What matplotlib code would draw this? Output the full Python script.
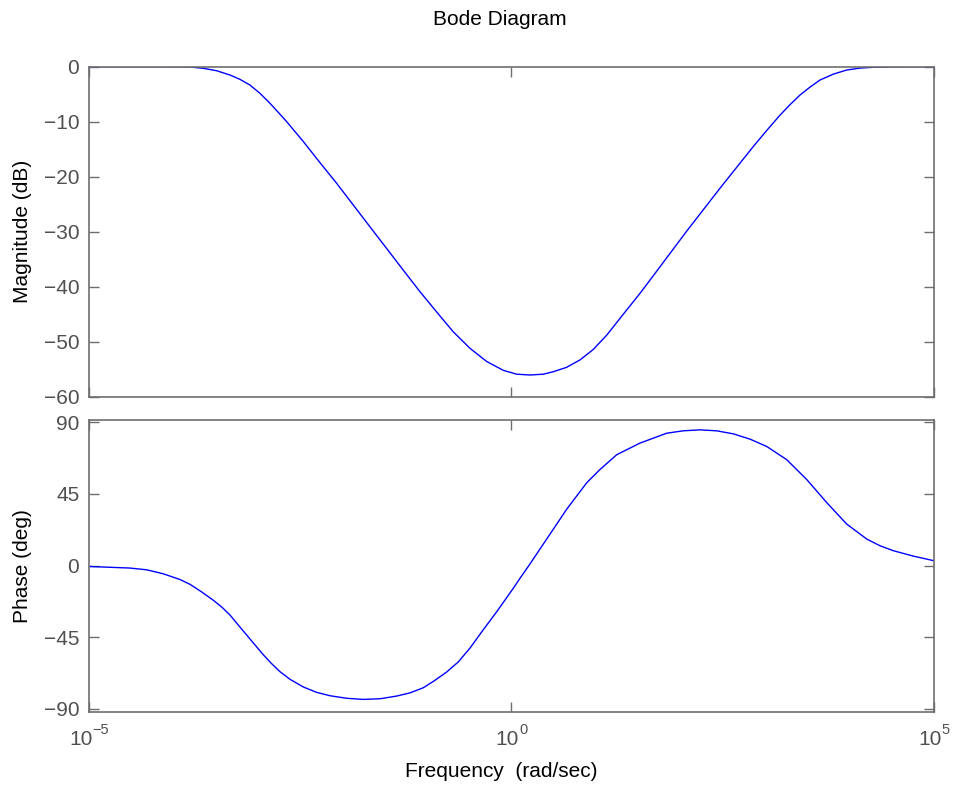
import numpy as np
import matplotlib
matplotlib.use("Agg")
import matplotlib.pyplot as plt
from matplotlib.ticker import FixedLocator, NullLocator, NullFormatter
from matplotlib.transforms import blended_transform_factory, offset_copy

plt.rcParams['font.family'] = ['Liberation Sans', 'DejaVu Sans']

# Magnitude response: frequency as decade exponent (log10 rad/sec), gain in dB
mag_exp = [-5.000, -4.278, -4.041, -3.805, -3.647, -3.489, -3.331, -3.213,
           -3.095, -2.976, -2.858, -2.760, -2.660, -2.464, -2.266, -2.069,
           -1.675, -1.280, -1.083, -0.885, -0.689, -0.491, -0.293, -0.097,
           0.061, 0.219, 0.376, 0.495, 0.653, 0.811, 0.968, 1.127, 1.323,
           1.521, 1.678, 2.073, 2.467, 2.862, 3.020, 3.178, 3.296, 3.414,
           3.533, 3.651, 3.808, 3.967, 4.124, 4.282, 4.598, 5.000]
mag_db = [0.0, 0.0, 0.0, -0.05, -0.29, -0.73, -1.51, -2.3,
          -3.33, -4.85, -6.65, -8.3, -10.0, -13.6, -17.45, -21.2,
          -29.1, -37.0, -40.9, -44.6, -48.2, -51.2, -53.6, -55.2,
          -55.9, -56.05, -55.9, -55.45, -54.65, -53.3, -51.4, -48.8, -45.0,
          -41.2, -38.0, -29.9, -22.1, -14.5, -11.6, -8.8, -6.9, -5.15,
          -3.7, -2.42, -1.35, -0.6, -0.25, -0.1, 0.0, 0.0]

# Phase response: frequency as decade exponent (log10 rad/sec), phase in deg
phase_exp = [-5.000, -4.515, -4.317, -4.121, -3.923, -3.805, -3.666, -3.529,
             -3.430, -3.331, -3.233, -3.134, -3.036, -2.937, -2.838, -2.740,
             -2.621, -2.464, -2.305, -2.148, -1.950, -1.754, -1.556, -1.359,
             -1.201, -1.044, -0.905, -0.767, -0.630, -0.491, -0.334, -0.175,
             0.021, 0.101, 0.219, 0.258, 0.456, 0.653, 0.890, 1.047, 1.245,
             1.521, 1.837, 2.033, 2.231, 2.428, 2.625, 2.822, 3.020, 3.257,
             3.493, 3.730, 3.967, 4.204, 4.361, 4.518, 4.755, 5.000]
phase_deg = [-0.6, -1.6, -2.7, -5.2, -8.8, -11.8, -16.6, -21.8,
             -26.0, -31.1, -37.4, -43.6, -49.8, -56.0, -61.6, -66.6,
             -71.4, -76.2, -79.6, -81.7, -83.3, -84.0, -83.6, -81.9,
             -79.9, -76.7, -72.0, -66.8, -60.5, -51.8, -40.3, -29.0,
             -14.3, -8.0, 1.0, 4.1, 19.7, 35.3, 51.9, 60.2, 69.5,
             76.8, 83.0, 84.5, 85.1, 84.5, 82.6, 79.3, 74.7, 66.4,
             54.0, 39.5, 26.0, 16.6, 12.4, 9.3, 5.9, 3.0]

mag_ticks = [0, -10, -20, -30, -40, -50, -60]
phase_ticks = [-90, -45, 0, 45, 90]
freq_ticks = [1e-5, 1e0, 1e5]
freq_tick_exps = ['\u22125', '0', '5']

mag_freq = 10.0 ** np.asarray(mag_exp)
phase_freq = 10.0 ** np.asarray(phase_exp)

frame_col = '#6e6e6e'
label_col = '#505050'
line_col = '#0000ff'
fs = 15

fig = plt.figure(figsize=(9.55, 7.85), dpi=100)
ax_mag = fig.add_axes([0.0932, 0.4946, 0.8848, 0.4204])
ax_ph = fig.add_axes([0.0932, 0.0934, 0.8848, 0.3716])

for ax in (ax_mag, ax_ph):
    ax.set_xscale('log')
    ax.set_xlim(1e-5, 1e5)
    ax.xaxis.set_major_locator(FixedLocator(freq_ticks))
    ax.xaxis.set_minor_locator(NullLocator())
    ax.xaxis.set_major_formatter(NullFormatter())
    ax.tick_params(which='both', direction='in', top=True, right=True,
                   length=7, width=1.0, color=frame_col, labelcolor=label_col,
                   labelsize=fs)
    ax.tick_params(axis='y', pad=7)
    for sp in ax.spines.values():
        sp.set_color(frame_col)
        sp.set_linewidth(1.2)

ax_mag.plot(mag_freq, mag_db, color=line_col, lw=1.0)
ax_mag.set_ylim(-60, 0)
ax_mag.set_yticks(mag_ticks)
ax_mag.set_ylabel('Magnitude (dB)', fontsize=fs, color='black')
ax_mag.yaxis.set_label_coords(-0.067, 0.5)

ax_ph.plot(phase_freq, phase_deg, color=line_col, lw=1.0)
ax_ph.set_ylim(-91.7, 91.3)
ax_ph.set_yticks(phase_ticks)
ax_ph.set_ylabel('Phase (deg)', fontsize=fs, color='black')
ax_ph.yaxis.set_label_coords(-0.067, 0.5)

# Decade labels: base "10" with a raised exponent, the pair centred on its tick
renderer = fig.canvas.get_renderer()
xtrans = blended_transform_factory(ax_ph.transData, ax_ph.transAxes)
for f, e in zip(freq_ticks, freq_tick_exps):
    tb = ax_ph.text(f, 0, '10', transform=xtrans, fontsize=fs, ha='left',
                    va='top', color=label_col)
    te = ax_ph.text(f, 0, e, transform=xtrans, fontsize=10.5, ha='left',
                    va='top', color=label_col)
    wb = tb.get_window_extent(renderer).width
    we = te.get_window_extent(renderer).width
    x0 = -(wb + we) / 2.0
    tb.set_transform(offset_copy(xtrans, fig=fig, x=x0, y=-18, units='dots'))
    te.set_transform(offset_copy(xtrans, fig=fig, x=x0 + wb, y=-11, units='dots'))

fig.text(501 / 955, 1 - 762 / 785, 'Frequency  (rad/sec)', fontsize=fs,
         ha='center', va='top', color='black')
fig.text(500 / 955, 1 - 10 / 785, 'Bode Diagram', fontsize=fs,
         ha='center', va='top', color='black')

fig.savefig('out.png', dpi=100)
